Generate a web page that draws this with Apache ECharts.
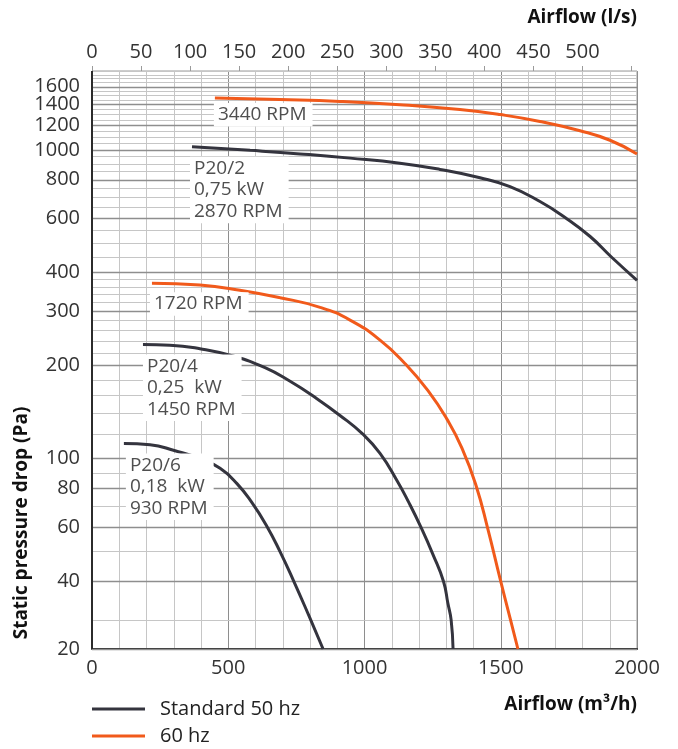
<!DOCTYPE html>
<html>
<head>
<meta charset="utf-8">
<script src="https://cdn.jsdelivr.net/npm/echarts@6/dist/echarts.min.js"></script>
<style>
  html, body { margin: 0; padding: 0; background: #fff; }
  #chart { width: 678px; height: 749px; }
</style>
</head>
<body>
<div id="chart"></div>
<script>
// Fan curves: airflow in m³/h, static pressure in Pa
const p20_6_flow = [117, 213, 305, 396, 470, 532, 587, 639, 690, 741, 796, 848];
const p20_6_pa   = [112, 111, 106, 100, 93, 83, 72, 61, 50, 40, 31, 20];

const p20_4_flow = [187, 286, 396, 517, 635, 727, 818, 910, 994, 1057, 1119, 1163, 1207, 1251, 1290, 1306, 1318, 1325];
const p20_4_pa   = [234, 233, 227, 215, 197, 178, 158, 138, 120, 104, 85, 72, 60, 49, 40, 34, 30, 20];

const p20_2_flow = [367, 580, 763, 947, 1130, 1277, 1424, 1534, 1644, 1736, 1828, 1908, 2000];
const p20_2_pa   = [1024, 996, 970, 940, 905, 864, 812, 760, 680, 604, 524, 448, 378];

const rpm1720_flow = [220, 396, 543, 690, 837, 947, 1057, 1149, 1233, 1303, 1358, 1409, 1453, 1497, 1534, 1563];
const rpm1720_pa   = [370, 365, 351, 332, 309, 281, 242, 203, 166, 134, 108, 82, 59, 41, 30.5, 20];

const rpm3440_flow = [451, 690, 910, 1130, 1350, 1497, 1644, 1791, 1901, 2000];
const rpm3440_pa   = [1471, 1455, 1435, 1400, 1350, 1301, 1236, 1153, 1074, 970];

// Axis ticks and grid
const yTickLabels  = [20, 40, 60, 80, 100, 200, 300, 400, 600, 800, 1000, 1200, 1400, 1600];
const yMinorLines  = [30, 50, 70, 90, 120, 140, 160, 180, 220, 240, 260, 280, 320, 340, 360, 380,
                      450, 500, 550, 650, 700, 750, 850, 900, 950, 1050, 1100, 1150, 1250, 1300, 1350,
                      1450, 1500, 1550, 1650, 1700, 1750, 1800];
const xTickLabels  = [0, 500, 1000, 1500, 2000];
const lsTickLabels = [0, 50, 100, 150, 200, 250, 300, 350, 400, 450, 500];

const FLOW_MIN = 0, FLOW_MAX = 2000;     // m³/h
const LS_PER_M3H = 1 / 3.6;              // l/s per m³/h
const PA_MIN = 20, PA_MAX = 1800;

const FONT = "'Open Sans', 'Noto Sans', sans-serif";
const DARK = '#34343e';
const ORANGE = '#f15a1b';
const AXIS_DARK = '#2b2b2b';
const MAJOR_GRID = '#8e8e8e';
const MINOR_GRID = '#c6c6c6';

function curve(name, color, flow, pa, text, offset) {
  const data = flow.map((f, i) => {
    const pt = [f, pa[i]];
    if (i === 0) {
      return { value: pt, label: { show: true, formatter: text, position: offset } };
    }
    return pt;
  });
  return {
    type: 'line',
    name: name,
    data: data,
    smooth: 0.5,
    symbol: 'circle',
    symbolSize: 0,
    showSymbol: true,
    showAllSymbol: true,
    lineStyle: { color: color, width: 3 },
    itemStyle: { color: color },
    z: 3,
    label: {
      show: false,
      align: 'left',
      verticalAlign: 'top',
      backgroundColor: '#fff',
      padding: [1, 6, 1, 4],
      color: '#4f4f4f',
      fontFamily: FONT,
      fontSize: 19,
      lineHeight: 21.5
    },
    emphasis: { disabled: true },
    animation: false
  };
}

function gridLines(name, values, color, width, withLabels) {
  return {
    type: 'line', name: name, data: [], silent: true,
    markLine: {
      silent: true, z: 1, animation: false,
      symbol: ['none', 'none'],
      emphasis: { disabled: true },
      label: withLabels ? {
        show: true, position: 'start', distance: 12,
        formatter: p => String(p.value),
        color: '#333', fontSize: 20, fontFamily: FONT
      } : { show: false },
      lineStyle: { color: color, width: width, type: 'solid' },
      data: values.map(v => ({ yAxis: v }))
    }
  };
}

const chart = echarts.init(document.getElementById('chart'), null, { renderer: 'canvas' });

chart.setOption({
  animation: false,
  backgroundColor: '#fff',
  grid: {
    left: 92, right: 41, top: 71, bottom: 100,
    show: true, borderColor: '#9a9a9a', borderWidth: 1
  },
  title: [
    { text: 'Airflow (l/s)', right: 41, top: 8, padding: 0,
      textStyle: { fontSize: 19, fontWeight: 'bold', color: '#111', fontFamily: FONT } },
    { text: 'Airflow (m³/h)', right: 41, top: 695, padding: 0,
      textStyle: { fontSize: 19, fontWeight: 'bold', color: '#111', fontFamily: FONT } }
  ],
  graphic: [{
    type: 'text',
    x: 22, y: 523,
    rotation: Math.PI / 2,
    style: {
      text: 'Static pressure drop (Pa)',
      font: "bold 19px 'Open Sans'",
      fill: '#111',
      align: 'center', verticalAlign: 'middle',
      textAlign: 'center', textVerticalAlign: 'middle'
    }
  }],
  legend: {
    data: ['Standard 50 hz', '60 hz'],
    orient: 'vertical',
    left: 92, top: 699,
    padding: 0,
    itemWidth: 53, itemHeight: 3, itemGap: 7,
    icon: 'rect',
    selectedMode: false,
    textStyle: { fontSize: 20, color: '#222', fontFamily: FONT, lineHeight: 20, padding: [0, 0, 0, 10] }
  },
  xAxis: [
    {
      type: 'value', position: 'bottom', min: FLOW_MIN, max: FLOW_MAX, interval: 100,
      axisLine: { show: true, onZero: false, lineStyle: { color: AXIS_DARK, width: 2 } },
      axisTick: { show: false },
      axisLabel: {
        color: '#333', fontSize: 20, fontFamily: FONT, margin: 9, showMaxLabel: true,
        formatter: v => (xTickLabels.indexOf(v) >= 0 ? String(v) : '')
      },
      splitLine: { show: true, lineStyle: { color: [MAJOR_GRID, MINOR_GRID, MINOR_GRID, MINOR_GRID, MINOR_GRID], width: 1 } }
    },
    {
      type: 'value', position: 'top', min: FLOW_MIN * LS_PER_M3H, max: FLOW_MAX * LS_PER_M3H, interval: 50,
      axisLine: { show: true, onZero: false, lineStyle: { color: '#9a9a9a', width: 1 } },
      axisTick: { show: true, inside: false, length: 5, lineStyle: { color: '#9a9a9a' } },
      axisLabel: {
        color: '#333', fontSize: 20, fontFamily: FONT, margin: 9, showMaxLabel: false,
        formatter: v => (lsTickLabels.indexOf(v) >= 0 ? String(v) : '')
      },
      splitLine: { show: false }
    }
  ],
  yAxis: [{
    type: 'log', logBase: 10, min: PA_MIN, max: PA_MAX,
    // the 20–30 Pa band is drawn compressed
    breaks: [{ start: 20, end: 30, gap: '5%' }],
    breakArea: { show: false, itemStyle: { opacity: 0, borderColor: 'transparent' } },
    axisLine: { show: false },
    axisTick: { show: false },
    axisLabel: { show: false },
    splitLine: { show: false },
    minorTick: { show: false },
    minorSplitLine: { show: false }
  }],
  series: [
    gridLines('minor-grid', yMinorLines, MINOR_GRID, 1, false),
    gridLines('major-grid', yTickLabels, MAJOR_GRID, 1.3, true),
    {
      // left axis line, drawn over the full height of the plot
      type: 'line', name: 'y-axis-line', data: [], silent: true,
      markLine: {
        silent: true, z: 2, animation: false,
        symbol: ['none', 'none'],
        emphasis: { disabled: true },
        label: { show: false },
        lineStyle: { color: AXIS_DARK, width: 2, type: 'solid' },
        data: [{ xAxis: FLOW_MIN }]
      }
    },
    curve('Standard 50 hz', DARK, p20_6_flow, p20_6_pa, 'P20/6\n0,18  kW\n930 RPM', [2, 10]),
    curve('Standard 50 hz', DARK, p20_4_flow, p20_4_pa, 'P20/4\n0,25  kW\n1450 RPM', [0, 10]),
    curve('Standard 50 hz', DARK, p20_2_flow, p20_2_pa, 'P20/2\n0,75 kW\n2870 RPM', [-2, 10]),
    curve('60 hz', ORANGE, rpm1720_flow, rpm1720_pa, '1720 RPM', [-2, 9]),
    curve('60 hz', ORANGE, rpm3440_flow, rpm3440_pa, '3440 RPM', [-1, 5])
  ]
});
</script>
</body>
</html>
